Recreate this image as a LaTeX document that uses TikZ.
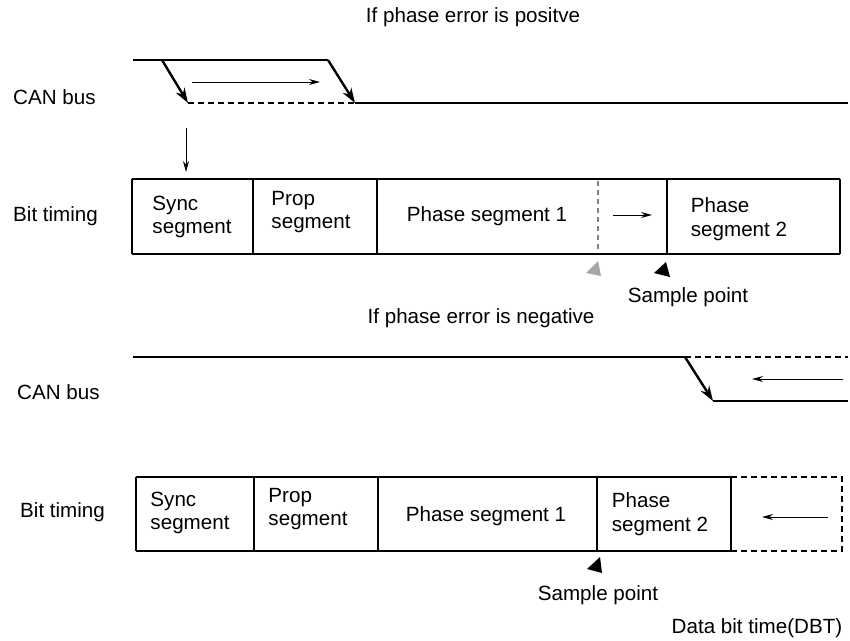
\documentclass[tikz,border=0pt]{standalone}
\usepackage{fontspec}
\setmainfont{Liberation Sans}
\usetikzlibrary{arrows.meta}
\begin{document}
\begin{tikzpicture}[x=1pt,y=-1pt,
  every node/.style={font=\fontsize{20.6}{23.5}\selectfont, inner sep=0pt},
  sig/.style={line width=2.6pt},
  sigdash/.style={line width=2.6pt, dash pattern=on 6pt off 4pt},
  edgearrow/.style={line width=2.4pt, -{Stealth[length=15pt,width=10pt]}},
  thinarrow/.style={line width=1pt, -{Stealth[length=11pt,width=6pt]}},
  rail/.style={line width=2.4pt},
  divider/.style={line width=1.1pt},
  lbl/.style={anchor=west},
  seg/.style={align=left},
  spmark/.style={fill=black},
  graymark/.style={fill=black!35},
]
\useasboundingbox (0,0) rectangle (850,640);

% ---------- titles and labels ----------
\node (t1) at (473,17) {If phase error is positve};
\node (t2) at (481,318) {If phase error is negative};
\node[lbl] (can1) at (13,97) {CAN bus};
\node[lbl] (bit1) at (13,216) {Bit timing};
\node[lbl] (can2) at (17,392) {CAN bus};
\node[lbl] (bit2) at (20,512) {Bit timing};

% ---------- top CAN bus ----------
\coordinate (a0) at (133,60);
\coordinate (a1) at (162,60);
\coordinate (a2) at (328,60);
\coordinate (b1) at (188,103);
\coordinate (b2) at (355,103);
\coordinate (b3) at (848,103);
\draw[sig] (a0) -- (a2);
\draw[sigdash] (b1) -- (b2);
\draw[sig] (b2) -- (b3);
\draw[edgearrow] (a1) -- (b1);
\draw[edgearrow] (a2) -- (b2);
\coordinate (r1) at (192,82);
\coordinate (r2) at (320,82);
\draw[thinarrow] (r1) -- (r2);
\coordinate (d1) at (186,128);
\coordinate (d2) at (186,172);
\draw[thinarrow] (d1) -- (d2);

% ---------- top bit timing ----------
\draw[rail] (132,179) -- (840,179);
\draw[rail] (132,254) -- (840,254);
\foreach \x in {132,253,377,667,840}
  \draw[divider] (\x,179) -- (\x,254);
\draw[gray, line width=1.1pt, dash pattern=on 5pt off 4pt] (598,181) -- (598,252);
\coordinate (p1) at (613,215);
\coordinate (p2) at (652,215);
\draw[thinarrow] (p1) -- (p2);
\node[seg] (sync1) at (192,217) {Sync\\segment};
\node[seg] (prop1) at (311,212) {Prop\\segment};
\node (ph1) at (487,216) {Phase segment 1};
\node[seg] (ph2) at (739,219) {Phase\\segment 2};
\fill[graymark] (598,261) -- (586,273) -- (601,276) -- cycle;
\fill[spmark] (666,262) -- (654,273) -- (670,277) -- cycle;
\node (sp1) at (688,297) {Sample point};

% ---------- bottom CAN bus ----------
\coordinate (c0) at (133,357);
\coordinate (c1) at (685,357);
\coordinate (c2) at (848,357);
\coordinate (e1) at (713,401);
\coordinate (e2) at (848,401);
\draw[sig] (c0) -- (c1);
\draw[sigdash] (c1) -- (c2);
\draw[edgearrow] (c1) -- (e1);
\draw[sig] (e1) -- (e2);
\coordinate (l1) at (843,379);
\coordinate (l2) at (752,379);
\draw[thinarrow] (l1) -- (l2);

% ---------- bottom bit timing ----------
\draw[rail] (136,477) -- (731,477);
\draw[rail] (136,551) -- (731,551);
\foreach \x in {136,254,378,597,731}
  \draw[divider] (\x,477) -- (\x,551);
\draw[sigdash, line width=2.4pt] (731,477) -- (842,477) -- (842,551) -- (731,551);
\coordinate (q1) at (828,517);
\coordinate (q2) at (762,517);
\draw[thinarrow] (q1) -- (q2);
\node[seg] (sync2) at (190,513) {Sync\\segment};
\node[seg] (prop2) at (308,509) {Prop\\segment};
\node (ph1b) at (486,516) {Phase segment 1};
\node[seg] (ph2b) at (660,514) {Phase\\segment 2};
\fill[spmark] (600,557) -- (587,569) -- (602,573) -- cycle;
\node (sp2) at (598,595) {Sample point};
\node (dbt) at (757,628) {Data bit time(DBT)};
\end{tikzpicture}
\end{document}
